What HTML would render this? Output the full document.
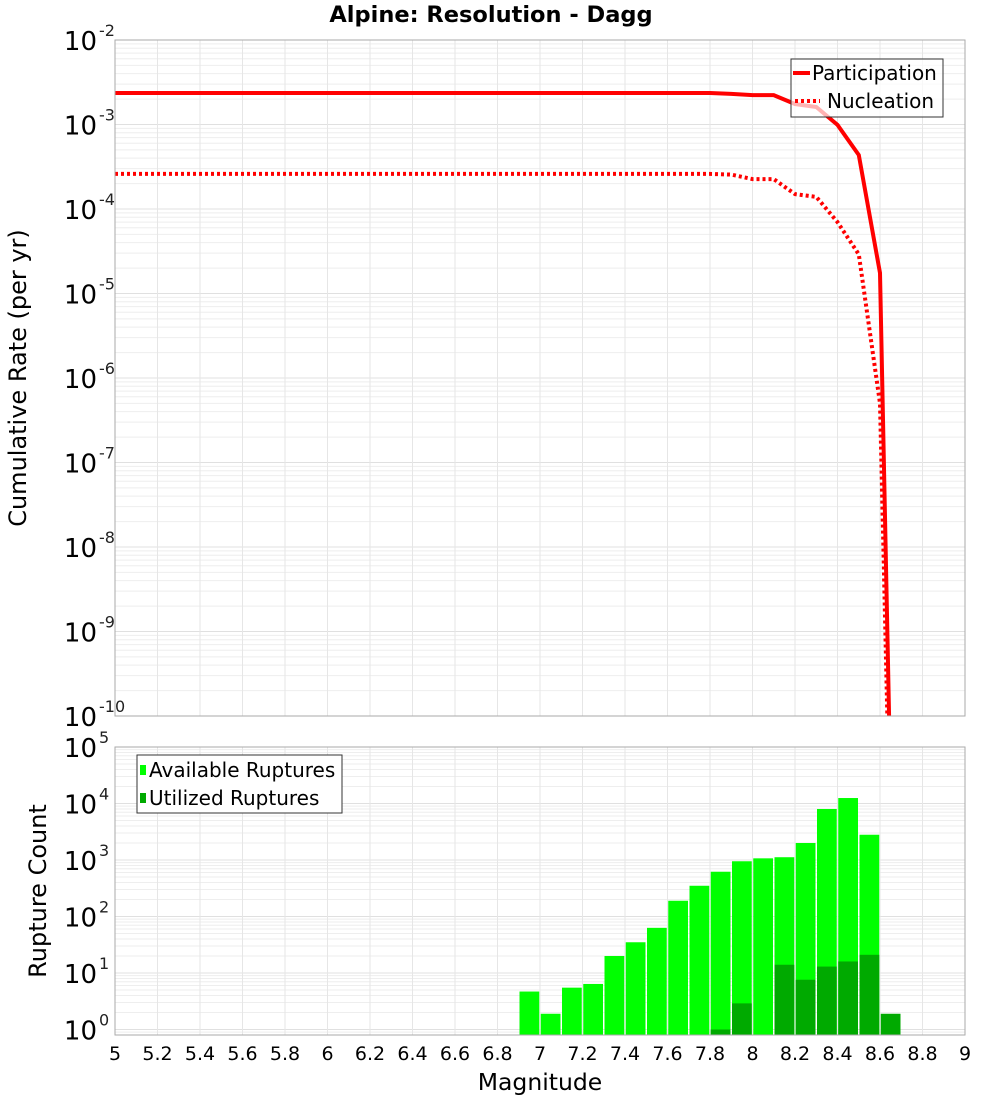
<!DOCTYPE html>
<html><head><meta charset="utf-8"><style>
html,body{margin:0;background:#fff;overflow:hidden;width:1000px;height:1100px;}
svg{display:block;font-family:"DejaVu Sans","Liberation Sans",sans-serif;}
</style></head><body>
<svg id="c" width="1000" height="1100"></svg>
<script>
const lineMags=[5.0,7.8,7.9,8.0,8.1,8.2,8.3,8.4,8.5,8.6,8.7];
const participation=[2.36e-3,2.36e-3,2.3e-3,2.23e-3,2.23e-3,1.75e-3,1.61e-3,9.9e-4,4.36e-4,1.75e-5,1e-17];
const nucleation=[2.6e-4,2.6e-4,2.55e-4,2.26e-4,2.26e-4,1.5e-4,1.39e-4,7e-5,2.9e-5,5e-7,1e-17];
const binMags=[6.95,7.05,7.15,7.25,7.35,7.45,7.55,7.65,7.75,7.85,7.95,8.05,8.15,8.25,8.35,8.45,8.55,8.65];
const available=[4.7,1.9,5.5,6.4,20,35,63,190,350,620,950,1070,1120,2000,8000,12500,2800,0];
const utilized=[0,0,0,0,0,0,0,0,0,1,2.9,0,14,7.6,13,16,21,1.9];
const xTicks=[5,5.2,5.4,5.6,5.8,6,6.2,6.4,6.6,6.8,7,7.2,7.4,7.6,7.8,8,8.2,8.4,8.6,8.8,9];
const topExp=[-2,-3,-4,-5,-6,-7,-8,-9,-10];
const botExp=[5,4,3,2,1,0];

const NS="http://www.w3.org/2000/svg";
const svg=document.getElementById('c');
function mk(t,a,p){const e=document.createElementNS(NS,t);for(const k in a)e.setAttribute(k,a[k]);(p||svg).appendChild(e);return e;}
const X0=115,X1=965;
const x=m=>X0+(m-5)/4*(X1-X0);
const T0=40,T1=716;
const yTop=v=>T0+(-2-Math.log10(v))*(T1-T0)/8;
const B0=747,B1=1035,BD=56.5;
const yBot=v=>B0+(5-Math.log10(v))*BD;

let t=mk('text',{x:491,y:22,'text-anchor':'middle','font-size':22.5,'font-weight':'bold'});t.textContent='Alpine: Resolution - Dagg';


function grid(yfn,eHi,eLo,top,bot,name){
  const g=mk('g',{});
  
  
  for(let e=eLo;e<eHi;e++){for(let k=1;k<10;k++){const yy=yfn(k*Math.pow(10,e));if(yy<top||yy>bot)continue;mk('line',{x1:X0,x2:X1,y1:yy,y2:yy,stroke:k==1?'#e0e0e0':'#eeeeee','stroke-width':1},g);}}
  mk('line',{x1:X0,x2:X1,y1:yfn(Math.pow(10,eHi)),y2:yfn(Math.pow(10,eHi)),stroke:'#e0e0e0'},g);
  xTicks.forEach(m=>mk('line',{x1:x(m),x2:x(m),y1:top,y2:bot,stroke:'#e6e6e6'},g));
}
grid(yTop,-2,-10,T0,T1,'top-grid');
grid(yBot,5,-1,B0,B1,'bottom-grid');

const cp=mk('clipPath',{id:'cpt'});mk('rect',{x:X0,y:T0,width:X1-X0,height:T1-T0},cp);
function path(vals,dash,name){
  let d=lineMags.map((m,i)=>(i?'L':'M')+x(m).toFixed(1)+','+yTop(vals[i]).toFixed(1)).join(' ');
  const p=mk('path',{d:d,fill:'none',stroke:'#ff0000','stroke-width':4,'clip-path':'url(#cpt)'});
  if(dash)p.setAttribute('stroke-dasharray','3,3');
  
}
path(nucleation,true,'nucleation-line');
path(participation,false,'participation-line');

const bw=(x(5.1)-x(5))-1.5;
binMags.forEach((m,i)=>{
  if(available[i]>0){const r=mk('rect',{x:x(m)-bw/2,y:yBot(available[i]),width:bw,height:B1-yBot(available[i]),fill:'#00ff00'});
  }
  if(utilized[i]>0){const r=mk('rect',{x:x(m)-bw/2,y:yBot(utilized[i]),width:bw,height:B1-yBot(utilized[i]),fill:'#00aa00'});
  }
});

let b1=mk('rect',{x:X0,y:T0,width:X1-X0,height:T1-T0,fill:'none',stroke:'#aaa'});

let b2=mk('rect',{x:X0,y:B0,width:X1-X0,height:B1-B0,fill:'none',stroke:'#aaa'});


function ylab(yy,e,name){
  const tx=mk('text',{x:97,y:yy+10,'text-anchor':'end','font-size':26});
  tx.textContent='10';
  
  const s=mk('text',{x:99,y:yy-4,'font-size':16,fill:'#222'});s.textContent=String(e);
  
}
topExp.forEach(e=>ylab(yTop(Math.pow(10,e)),e,'top-y-tick'));
botExp.forEach(e=>ylab(yBot(Math.pow(10,e)),e,'bottom-y-tick'));

xTicks.forEach(m=>{const tx=mk('text',{x:x(m),y:1060,'text-anchor':'middle','font-size':19});tx.textContent=String(m);
});
t=mk('text',{x:540,y:1090,'text-anchor':'middle','font-size':23.5});t.textContent='Magnitude';

t=mk('text',{x:0,y:0,'text-anchor':'middle','font-size':24,transform:'translate(26,378) rotate(-90)'});t.textContent='Cumulative Rate (per yr)';

t=mk('text',{x:0,y:0,'text-anchor':'middle','font-size':24,transform:'translate(46,891) rotate(-90)'});t.textContent='Rupture Count';


let lg=mk('g',{});
mk('rect',{x:791,y:59,width:152,height:58,fill:'#fff',stroke:'#333','fill-opacity':0.7},lg);
mk('line',{x1:793,x2:810,y1:73,y2:73,stroke:'#f00','stroke-width':4},lg);
mk('line',{x1:795,x2:820,y1:101,y2:101,stroke:'#f00','stroke-width':4,'stroke-dasharray':'3,3'},lg);
t=mk('text',{x:812,y:80,'font-size':20},lg);t.textContent='Participation';
t=mk('text',{x:827,y:108,'font-size':20},lg);t.textContent='Nucleation';

lg=mk('g',{});
mk('rect',{x:137,y:755,width:205,height:58,fill:'#fff',stroke:'#333'},lg);
mk('rect',{x:140,y:765,width:6,height:10,fill:'#00ff00'},lg);
mk('rect',{x:140,y:793,width:6,height:10,fill:'#00aa00'},lg);
t=mk('text',{x:149,y:777,'font-size':20},lg);t.textContent='Available Ruptures';
t=mk('text',{x:149,y:805,'font-size':20},lg);t.textContent='Utilized Ruptures';
</script>
</body></html>
